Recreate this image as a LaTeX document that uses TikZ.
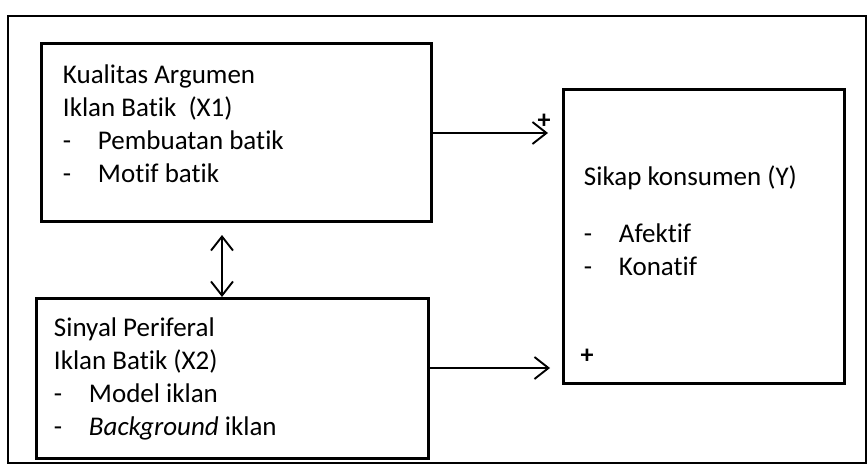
\documentclass[tikz,border=0pt]{standalone}
\usepackage{fontspec}
\setmainfont{Carlito}[Ligatures=NoCommon]
\usetikzlibrary{arrows.meta,positioning}

% list line with a hanging dash
\newcommand{\itm}[1]{\makebox[35pt][l]{-}#1}

\begin{document}
\begin{tikzpicture}[x=1pt,y=-1pt,>={Straight Barb[length=14pt,width=22pt]},line width=1.9pt]
  \tikzstyle{every node}=[font=\fontsize{27}{33}\selectfont]
  \tikzstyle{box}=[draw,line width=3pt,anchor=north west,inner sep=0pt]
  \tikzstyle{txt}=[align=left,anchor=base west,inner sep=0pt]
  \tikzstyle{sign}=[font=\bfseries\fontsize{26}{26}\selectfont,inner sep=0pt]
  \useasboundingbox (0,0) rectangle (868,471);
  \draw[line width=2.6pt] (8,16) rectangle (866,463);
  % the three variables
  \node[box,minimum width=390pt,minimum height=178pt] (x1) at (40,42) {};
  \node[box,minimum width=392pt,minimum height=160pt] (x2) at (35,297) {};
  \node[box,minimum width=281pt,minimum height=294pt] (y) at (562,88) {};
  % text blocks sit on the baseline of their last line
  \node[txt] (x1t) at (62,182) {Kualitas Argumen\\Iklan Batik~~(X1)\\
    \itm{Pembuatan batik}\\\itm{Motif batik}};
  \node[txt] (x2t) at (53,435) {Sinyal Periferal\\Iklan Batik (X2)\\
    \itm{Model iklan}\\\itm{\emph{Background} iklan}};
  \node[txt] (yt) at (583,275) {Sikap konsumen (Y)\\[24pt]
    \itm{Afektif}\\\itm{Konatif}};
  \node[sign] (p1) at (544,121) {+};
  \node[sign] (p2) at (587,356) {+};
  \coordinate (a1) at (548,133);
  \coordinate (a2) at (550,368);
  \coordinate (m) at (222,0);
  \path[->]
  (x1.east |- a1) edge (a1)
  (x2.east |- a2) edge (a2)
  ;
  \draw[<->,shorten <=12pt] (x1.south -| m) -- (x2.north -| m);
\end{tikzpicture}
\end{document}
